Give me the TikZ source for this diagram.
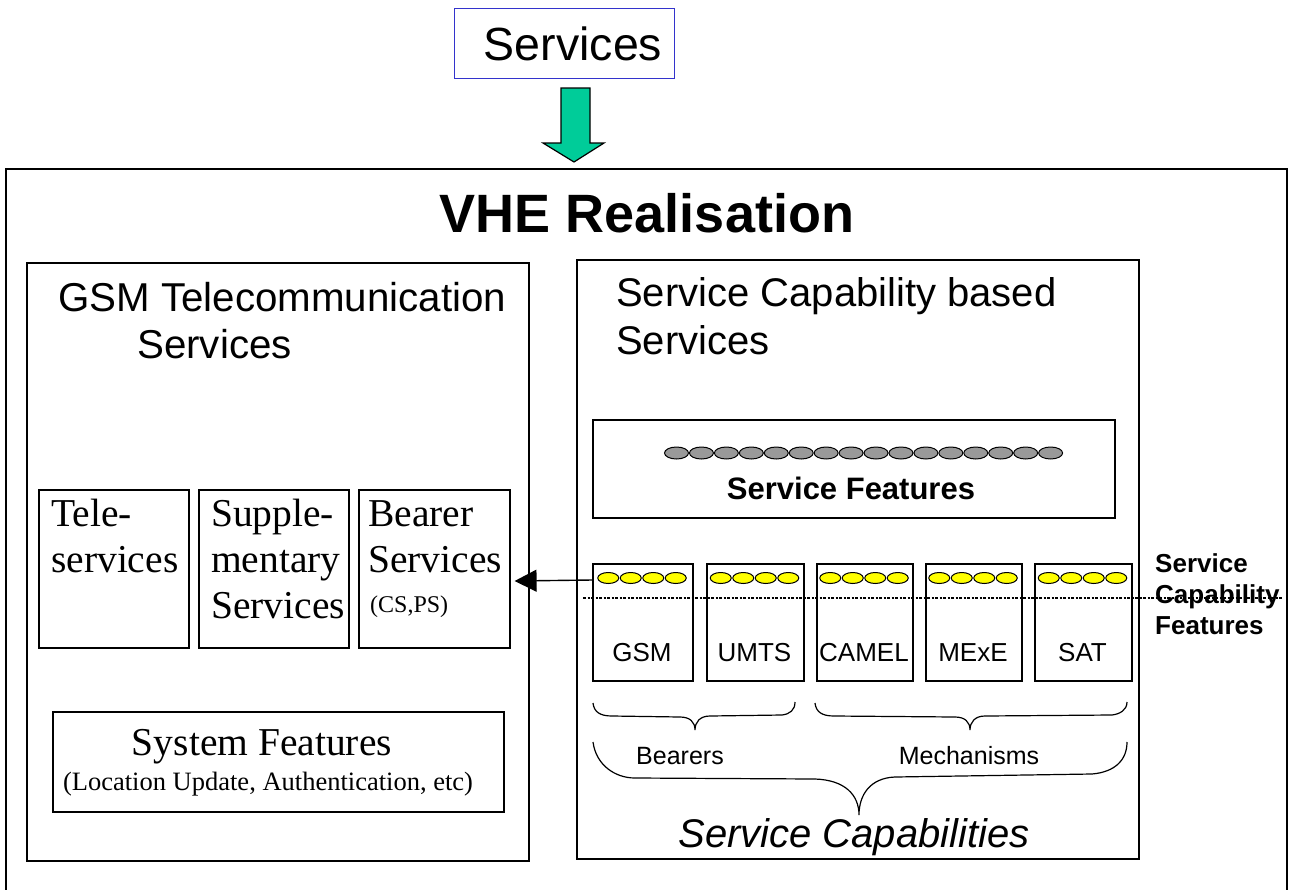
\documentclass[tikz,border=0pt]{standalone}
\usepackage{fontspec}
\setmainfont{Liberation Sans}
\newfontfamily\tms{Liberation Serif}
\usetikzlibrary{arrows.meta}
\definecolor{svcblue}{HTML}{3333CC}
\definecolor{arrgreen}{HTML}{00CC99}
\definecolor{featgray}{HTML}{999999}
\definecolor{capyellow}{HTML}{FFFF00}
\newcommand\fsz[1]{\fontsize{#1}{#1}\selectfont}
\begin{document}
\begin{tikzpicture}[x=1pt,y=-1pt,
  box/.style={draw=black, line width=1.6pt, inner sep=0pt, anchor=north west},
  txt/.style={inner sep=0pt},
  grayell/.style={draw=black, line width=1pt, fill=featgray},
  yelell/.style={draw=black, line width=1pt, fill=capyellow},
  bracepath/.style={draw=black, line width=1.2pt}]
\useasboundingbox (0,0) rectangle (1293,889);
% top services box
\node[draw=svcblue, line width=1.4pt, inner sep=0pt, anchor=north west,
  minimum width=220pt, minimum height=70pt] (svc) at (454,8) {};
\node[txt, anchor=base, font=\fsz{46.5}] (svct) at (573,60) {Services};
% green block arrow
\filldraw[fill=arrgreen, draw=black, line width=1.2pt]
  (561,88) -- (590,88) -- (590,143) -- (604,143) -- (574,162) -- (543,143) -- (561,143) -- cycle;
% outer box (open at bottom)
\draw[line width=1.8pt] (6,895) -- (6,169) -- (1287,169) -- (1287,895);
\node[txt, anchor=base, font=\bfseries\fsz{54}] (vhe) at (647,232) {VHE Realisation};
% left box
\node[box, minimum width=502pt, minimum height=598pt] (left) at (26,262) {};
\node[txt, anchor=base west, font=\fsz{40.3}] (gsmt1) at (58,311) {GSM Telecommunication};
\node[txt, anchor=base west, font=\fsz{40.3}] (gsmt2) at (137,358) {Services};
\node[box, minimum width=150pt, minimum height=158pt] (tele) at (38,489) {};
\node[box, minimum width=150pt, minimum height=158pt] (supp) at (198,489) {};
\node[box, minimum width=151pt, minimum height=158pt] (bearer) at (358,489) {};
\node[txt, anchor=base west, font=\tms\fsz{39.5}] (tele1) at (51,526) {Tele-};
\node[txt, anchor=base west, font=\tms\fsz{39.5}] (tele2) at (51,572) {services};
\node[txt, anchor=base west, font=\tms\fsz{39.5}] (supp1) at (211,526) {Supple-};
\node[txt, anchor=base west, font=\tms\fsz{39.5}] (supp2) at (211,572) {mentary};
\node[txt, anchor=base west, font=\tms\fsz{39.5}] (supp3) at (211,618) {Services};
\node[txt, anchor=base west, font=\tms\fsz{39.5}] (bear1) at (368,526) {Bearer};
\node[txt, anchor=base west, font=\tms\fsz{39.5}] (bear2) at (368,572) {Services};
\node[txt, anchor=base west, font=\tms\fsz{24}] (bear3) at (370,612) {(CS,PS)};
\node[box, minimum width=451pt, minimum height=100pt] (sysf) at (52,711) {};
\node[txt, anchor=base, font=\tms\fsz{39.5}] (sysf1) at (262,755) {System Features};
\node[txt, anchor=base, font=\tms\fsz{26.5}] (sysf2) at (268,790) {(Location Update, Authentication, etc)};
% right box
\node[box, minimum width=562pt, minimum height=599pt] (right) at (576,259) {};
\node[txt, anchor=base west, font=\fsz{40}] (scb1) at (616,306) {Service Capability based};
\node[txt, anchor=base west, font=\fsz{40}] (scb2) at (616,354) {Services};
\node[box, minimum width=522pt, minimum height=98pt] (sfeat) at (592,419) {};
\foreach \i in {0,...,15} \draw[grayell] (676.5+24.94*\i,453) ellipse [x radius=12, y radius=6];
\node[txt, anchor=base, font=\bfseries\fsz{31}] (sfeatt) at (851,499) {Service Features};
% capability boxes
\node[box, minimum width=100pt, minimum height=117pt] (gsm) at (592,563) {};
\node[box, minimum width=97pt, minimum height=117pt] (umts) at (706,563) {};
\node[box, minimum width=96pt, minimum height=117pt] (camel) at (816,563) {};
\node[box, minimum width=96pt, minimum height=117pt] (mexe) at (925,563) {};
\node[box, minimum width=97pt, minimum height=117pt] (sat) at (1034,563) {};
\foreach \c in {642,754.5,864,973,1082.5}
  \foreach \k in {-1.5,-0.5,0.5,1.5}
    \draw[yelell] (\c+22.5*\k,578) ellipse [x radius=10.5, y radius=5.5];
\node[txt, anchor=base, font=\fsz{26}] (gsml) at (642,661) {GSM};
\node[txt, anchor=base, font=\fsz{26}] (umtsl) at (754.5,661) {UMTS};
\node[txt, anchor=base, font=\fsz{26}] (camell) at (864,661) {CAMEL};
\node[txt, anchor=base, font=\fsz{26}] (mexel) at (973,661) {MExE};
\node[txt, anchor=base, font=\fsz{26}] (satl) at (1082.5,661) {SAT};
% dotted line
\draw[line width=1.5pt, dash pattern=on 3pt off 1.5pt on 2pt off 1.5pt] (583,598) -- (1283,598);
\node[txt, anchor=base west, font=\bfseries\fsz{26}] (scf1) at (1155,572) {Service};
\node[txt, anchor=base west, font=\bfseries\fsz{26}] (scf2) at (1155,603) {Capability};
\node[txt, anchor=base west, font=\bfseries\fsz{26}] (scf3) at (1155,634) {Features};
% arrow to bearer services
\draw[line width=1.4pt, -{Triangle[length=22pt,width=22pt]}]
  ([yshift=-17pt]gsm.north west) -- ([xshift=4pt,yshift=-92pt]bearer.north east);
% braces
\draw[bracepath] (593,703) .. controls (594,712) and (600,716) .. (612,716) -- (680,717)
  .. controls (690,717) and (695,722) .. (695,730) .. controls (695,722) and (700,716) .. (710,716)
  -- (782,715) .. controls (790,714) and (795,710) .. (795,702);
\draw[bracepath] (815,703) .. controls (816,712) and (822,716) .. (834,716) -- (955,717)
  .. controls (965,717) and (970,722) .. (970,730) .. controls (970,722) and (975,716) .. (985,716)
  -- (1112,715) .. controls (1120,714) and (1127,710) .. (1127,702);
\draw[bracepath] (593,742) .. controls (596,765) and (615,778) .. (635,778) -- (815,779)
  .. controls (845,780) and (859,795) .. (859,815) .. controls (859,795) and (870,778) .. (895,777)
  -- (1092,774) .. controls (1115,772) and (1127,760) .. (1127,742);
\node[txt, anchor=base, font=\fsz{25}] (bearers) at (680,764) {Bearers};
\node[txt, anchor=base, font=\fsz{25}] (mech) at (969,764) {Mechanisms};
\node[txt, anchor=base, font=\itshape\fsz{40}] (scap) at (854,847) {Service Capabilities};
\end{tikzpicture}
\end{document}
